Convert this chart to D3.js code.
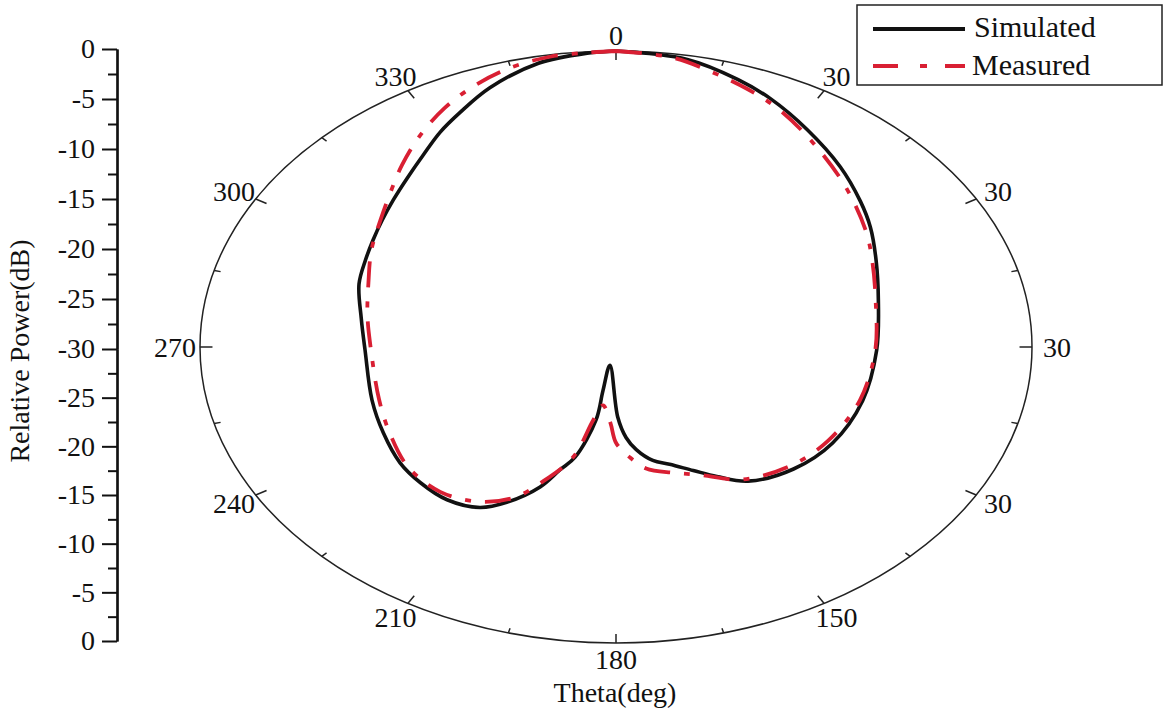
<!DOCTYPE html>
<html>
<head>
<meta charset="utf-8">
<script src="https://cdn.jsdelivr.net/npm/d3@7"></script>
<style>
  body { margin: 0; background: #fff; }
  text { font-family: "Liberation Serif", "Times New Roman", serif; fill: #111; }
</style>
</head>
<body>
<svg id="chart" width="1167" height="717"></svg>
<script>
// simulated pattern (theta in deg, relative power in dB)
const simTheta = [0, 10, 18, 24, 32, 41.5, 50, 56.5, 65, 76, 91, 107, 122, 134, 145, 151, 156, 162, 167, 172, 175.5, 179, 193.3, 192, 191, 194.8, 198, 201.1, 206.6, 211.1, 218.2, 225.7, 233, 242.6, 253, 269, 279, 289, 296, 301.7, 307.3, 312.8, 318.7, 324.4, 329.8, 334.7, 340.9, 349, 356, 360];
const simDb    = [0, -0.4, -1.5, -2.5, -4.0, -5.6, -7.0, -8.0, -9.3, -10.5, -11.2, -11.4, -11.6, -12.2, -13.4, -15.0, -16.3, -17.5, -18.2, -19.5, -20.8, -22.9, -28.1, -25.5, -22.5, -18.45, -16.9, -14.8, -12.4, -11.0, -10.3, -10.3, -10.5, -11.1, -11.6, -11.9, -11.4, -10.4, -9.9, -9.4, -8.8, -8.1, -7.2, -6.1, -4.8, -3.7, -2.2, -0.7, -0.15, 0];

// measured pattern
const measTheta = [0, 8, 14, 20, 26, 34.5, 45.5, 57, 65, 76, 91, 107, 122, 134, 146, 155, 162, 170, 175, 180, 183, 189, 192.5, 195.5, 201.5, 205.6, 212, 220.8, 231, 241.9, 252.6, 270, 280, 290, 299.2, 307.1, 314, 320.1, 326.7, 333, 339, 344.9, 350.8, 356, 360];
const measDb    = [0, -0.4, -1.3, -2.2, -3.2, -4.9, -6.8, -8.5, -9.6, -10.7, -11.3, -11.6, -12.0, -12.6, -13.8, -15.7, -16.6, -17.5, -18.8, -20.3, -22.3, -24.0, -22.4, -18.4, -15.2, -13.1, -11.5, -10.6, -10.7, -11.5, -12.1, -12.3, -11.8, -11.0, -9.8, -8.7, -7.4, -5.95, -4.3, -2.8, -1.6, -0.7, -0.2, -0.1, 0];

const angleTicks  = [0, 30, 60, 90, 120, 150, 180, 210, 240, 270, 300, 330];
const angleLabels = ["0", "30", "30", "30", "30", "150", "180", "210", "240", "270", "300", "330"];

const powerMajorTop = [0, -5, -10, -15, -20, -25, -30];
const powerMajorBot = [-25, -20, -15, -10, -5, 0];
const powerMinor    = [-2.5, -7.5, -12.5, -17.5, -22.5, -27.5];

const svg = d3.select("#chart");

const cx = 616, cy = 347, rx = 416, ry = 296;
const rScale = d3.scaleLinear().domain([-30, 0]).range([0, 1]);

function pt(theta, r) {
  const a = theta * Math.PI / 180;
  return [cx + rx * r * Math.sin(a), cy - ry * r * Math.cos(a)];
}

// outer ring
svg.append("ellipse")
  .attr("cx", cx).attr("cy", cy).attr("rx", rx).attr("ry", ry)
  .attr("fill", "none").attr("stroke", "#222").attr("stroke-width", 1.5);

// angle ticks, pointing inward
d3.range(0, 360, 15).forEach(t => {
  const inner = t % 30 === 0 ? 0.97 : 0.984;
  const p1 = pt(t, 1), p2 = pt(t, inner);
  svg.append("line")
    .attr("x1", p1[0]).attr("y1", p1[1]).attr("x2", p2[0]).attr("y2", p2[1])
    .attr("stroke", "#222").attr("stroke-width", 1.5);
});

// angle labels
angleTicks.forEach((t, i) => {
  const a = t * Math.PI / 180;
  svg.append("text")
    .attr("x", cx + (rx + 25) * Math.sin(a))
    .attr("y", cy - (ry + 16) * Math.cos(a))
    .attr("text-anchor", "middle")
    .attr("dominant-baseline", "central")
    .attr("font-size", 28)
    .text(angleLabels[i]);
});

// pattern curves
const line = d3.line()
  .x(d => pt(d.t, rScale(d.db))[0])
  .y(d => pt(d.t, rScale(d.db))[1])
  .curve(d3.curveCatmullRom.alpha(0.5));

const simData = simTheta.map((t, i) => ({ t, db: simDb[i] }));
const measData = measTheta.map((t, i) => ({ t, db: measDb[i] }));

svg.append("path").datum(simData)
  .attr("d", line)
  .attr("fill", "none").attr("stroke", "#111").attr("stroke-width", 3.6);

svg.append("path").datum(measData)
  .attr("d", line)
  .attr("fill", "none").attr("stroke", "#d91f33").attr("stroke-width", 3.8)
  .attr("stroke-dasharray", "26,14,6,14");

// left axis: 0 at the rim, -30 at the centre, mirrored below
const yTop = d3.scaleLinear().domain([0, -30]).range([49, 349]);
const yBot = d3.scaleLinear().domain([-30, 0]).range([349, 641]);
const axisX = 117;

function styleAxis(g) {
  g.select(".domain").attr("stroke", "#111").attr("stroke-width", 2.2);
  g.selectAll(".tick line").attr("stroke", "#111").attr("stroke-width", 2);
  g.selectAll(".tick text").attr("font-size", 28).attr("fill", "#111")
    .style("font-family", "Liberation Serif");
}

const gTop = svg.append("g").attr("transform", `translate(${axisX},0)`)
  .call(d3.axisLeft(yTop).tickValues(powerMajorTop).tickSize(15).tickSizeOuter(0)
    .tickPadding(7).tickFormat(d => String(d)));
styleAxis(gTop);
const gTopMinor = svg.append("g").attr("transform", `translate(${axisX},0)`)
  .call(d3.axisLeft(yTop).tickValues(powerMinor).tickSize(9).tickSizeOuter(0).tickFormat(""));
styleAxis(gTopMinor);

const gBot = svg.append("g").attr("transform", `translate(${axisX},0)`)
  .call(d3.axisLeft(yBot).tickValues(powerMajorBot).tickSize(15).tickSizeOuter(0)
    .tickPadding(7).tickFormat(d => String(d)));
styleAxis(gBot);
const gBotMinor = svg.append("g").attr("transform", `translate(${axisX},0)`)
  .call(d3.axisLeft(yBot).tickValues(powerMinor).tickSize(9).tickSizeOuter(0).tickFormat(""));
styleAxis(gBotMinor);

// axis titles
svg.append("text")
  .attr("transform", "translate(29,351) rotate(-90)")
  .attr("text-anchor", "middle")
  .attr("font-size", 28)
  .text("Relative Power(dB)");

svg.append("text")
  .attr("x", 615).attr("y", 702)
  .attr("text-anchor", "middle")
  .attr("font-size", 28)
  .text("Theta(deg)");

// legend
const legend = svg.append("g");
legend.append("rect")
  .attr("x", 857).attr("y", 5).attr("width", 305).attr("height", 80)
  .attr("fill", "#fff").attr("stroke", "#222").attr("stroke-width", 1.5);
legend.append("line")
  .attr("x1", 873).attr("x2", 965).attr("y1", 29).attr("y2", 29)
  .attr("stroke", "#111").attr("stroke-width", 4);
legend.append("line")
  .attr("x1", 873).attr("x2", 965).attr("y1", 66).attr("y2", 66)
  .attr("stroke", "#d91f33").attr("stroke-width", 4)
  .attr("stroke-dasharray", "25,22,7,18");
legend.append("text").attr("x", 974).attr("y", 37).attr("font-size", 30).text("Simulated");
legend.append("text").attr("x", 972).attr("y", 75).attr("font-size", 30).text("Measured");
</script>
</body>
</html>
